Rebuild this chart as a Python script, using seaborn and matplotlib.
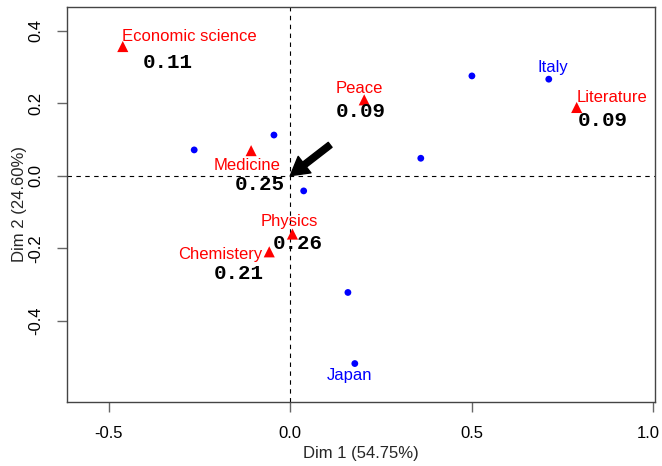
import pandas as pd
import matplotlib.pyplot as plt
import matplotlib.transforms as mtransforms
import seaborn as sns

# CA factor map: prize categories (columns) and countries (rows)
col_names = ["Economic science", "Peace", "Literature", "Medicine", "Physics", "Chemistery"]
col_dim1 = [-0.462, 0.204, 0.790, -0.108, 0.006, -0.058]
col_dim2 = [0.356, 0.209, 0.188, 0.069, -0.161, -0.210]
col_values = ["0.11", "0.09", "0.09", "0.25", "0.26", "0.21"]

row_names = ["", "", "", "Italy", "", "", "", "Japan"]
row_dim1 = [-0.265, -0.045, 0.501, 0.713, 0.360, 0.037, 0.159, 0.178]
row_dim2 = [0.071, 0.112, 0.275, 0.266, 0.048, -0.042, -0.322, -0.518]

x_ticks = [-0.5, 0.0, 0.5, 1.0]
y_ticks = [-0.4, -0.2, 0.0, 0.2, 0.4]

# label offsets in pixels (dx, dy up)
name_offsets = [(67, 10.5), (-4.5, 11.5), (35, 9.7), (-4, -15.3), (-3.3, 13), (-48.8, -2.8)]
value_offsets = [(45, -16), (-3, -11.5), (26.3, -13.3), (9, -34.3), (5.2, -9.2), (-30.3, -21.5)]
row_offsets = [(0, 0), (0, 0), (0, 0), (4.3, 11.8), (0, 0), (0, 0), (0, 0), (-5, -12.2)]

sns.set_style("white")
plt.rcParams['font.family'] = ['Liberation Sans', 'DejaVu Sans']

cols = pd.DataFrame({"name": col_names, "dim1": col_dim1, "dim2": col_dim2, "val": col_values})
rows = pd.DataFrame({"name": row_names, "dim1": row_dim1, "dim2": row_dim2})

fig = plt.figure(figsize=(6.62, 4.66), dpi=100)
ax = fig.add_axes([67.3 / 662, 1 - 402 / 466, (655 - 67.3) / 662, (402 - 7) / 466])

ax.axhline(0, color="black", lw=0.8, ls=(0, (4, 4)), zorder=1)
ax.axvline(0, color="black", lw=0.8, ls=(0, (4, 4)), zorder=1)

sns.scatterplot(data=rows, x="dim1", y="dim2", color="#0000FF", marker="o",
                s=24, edgecolor="none", ax=ax, zorder=3)
sns.scatterplot(data=cols, x="dim1", y="dim2", color="#FF0000", marker="^",
                s=64, edgecolor="none", ax=ax, zorder=3)

for i, r in rows.iterrows():
    if r["name"]:
        ax.annotate(r["name"], (r["dim1"], r["dim2"]), xytext=row_offsets[i],
                    textcoords="offset pixels", ha="center", va="center",
                    color="#0000FF", fontsize=12)

for i, r in cols.iterrows():
    ax.annotate(r["name"], (r["dim1"], r["dim2"]), xytext=name_offsets[i],
                textcoords="offset pixels", ha="center", va="center",
                color="#FF0000", fontsize=12)
    ax.annotate(r["val"], (r["dim1"], r["dim2"]), xytext=value_offsets[i],
                textcoords="offset pixels", ha="center", va="center",
                color="black", fontsize=15, fontweight="bold",
                family=["Liberation Mono", "DejaVu Sans Mono"])

# arrow pointing to the origin
ax.annotate("", xy=(0.0, 0.0), xytext=(0.11, 0.085),
            arrowprops=dict(facecolor="black", edgecolor="black",
                            width=4.5, headwidth=15, headlength=13))

ax.set_xlim(-0.615, 1.006)
ax.set_ylim(-0.624, 0.465)
ax.set_xticks(x_ticks)
ax.set_yticks(y_ticks)
ax.set_xticklabels([f"{t:.1f}" for t in x_ticks])
ax.set_yticklabels([f"{t:.1f}" for t in y_ticks], rotation=90, va="center")
ax.tick_params(axis="both", direction="out", length=7, width=1, color="#666666",
               labelsize=12, labelcolor="black", pad=10, left=True, bottom=True)

# keep the last x tick label inside the figure
last = ax.get_xticklabels()[-1]
last.set_transform(last.get_transform() +
                   mtransforms.ScaledTranslation(-5 / 100, 0, fig.dpi_scale_trans))

for s in ax.spines.values():
    s.set_color("#444444")
    s.set_linewidth(1)
    s.set_visible(True)

ax.set_xlabel("Dim 1 (54.75%)", fontsize=12)
ax.set_ylabel("Dim 2 (24.60%)", fontsize=12)
ax.xaxis.set_label_coords(0.5, -0.111)
ax.yaxis.set_label_coords(-0.069, 0.5)

fig.savefig("out.png", dpi=100)
plt.close(fig)
